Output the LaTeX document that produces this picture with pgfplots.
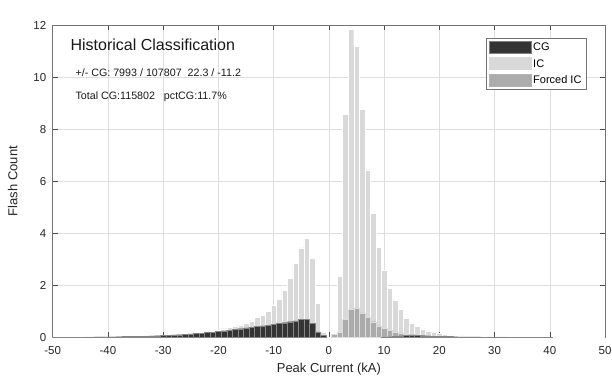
\documentclass[border=0pt]{standalone}
\usepackage{fontspec}
\setmainfont{Liberation Sans}
\usepackage{pgfplots}
\pgfplotsset{compat=1.18}
\usepackage{pgfplotstable}
\definecolor{cgcol}{RGB}{52,52,52}
\definecolor{iccol}{RGB}{217,217,217}
\definecolor{ficcol}{RGB}{171,171,171}

\pgfplotstableread{
kA count
-50 50
-49 60
-48 70
-47 80
-46 90
-45 100
-44 120
-43 140
-42 160
-41 180
-40 200
-39 230
-38 260
-37 300
-36 340
-35 400
-34 450
-33 500
-32 580
-31 660
-30 750
-29 850
-28 950
-27 1100
-26 1250
-25 1400
-24 1600
-23 1800
-22 2100
-21 2500
-20 2900
-19 3300
-18 3800
-17 4300
-16 4800
-15 5400
-14 6300
-13 7600
-12 8500
-11 10100
-10 12400
-9 14500
-8 18100
-7 22600
-6 28300
-5 34400
-4 38000
-3 30300
-2 13000
-1 1800
0 200
1 1600
2 23400
3 85700
4 118500
5 111800
6 87600
7 64400
8 47700
9 34500
10 25700
11 18700
12 14300
13 10800
14 7500
15 5500
16 4100
17 3200
18 2500
19 2000
20 1500
21 1100
22 900
23 700
24 550
25 450
26 370
27 300
28 250
29 200
30 170
31 140
32 120
33 100
34 90
35 80
36 70
37 60
38 50
39 45
40 40
41 35
42 30
43 28
44 25
45 22
46 20
47 18
48 15
49 12
50 10
}\ictable

\pgfplotstableread{
kA count
1 1200
2 1800
3 7000
4 10700
5 11300
6 9400
7 7600
8 6000
9 4400
10 3400
11 2800
12 2100
13 1700
14 1200
15 1100
16 800
17 600
18 500
19 400
20 300
21 200
22 150
23 100
24 80
25 60
}\fictable

\pgfplotstableread{
kA count
-50 40
-49 50
-48 50
-47 60
-46 70
-45 80
-44 90
-43 110
-42 130
-41 150
-40 170
-39 200
-38 230
-37 270
-36 310
-35 360
-34 410
-33 470
-32 540
-31 620
-30 700
-29 800
-28 900
-27 1000
-26 1150
-25 1300
-24 1450
-23 1600
-22 1800
-21 2000
-20 2200
-19 2450
-18 2700
-17 2950
-16 3300
-15 3600
-14 3900
-13 4200
-12 4400
-11 4700
-10 5100
-9 5400
-8 5600
-7 6000
-6 6300
-5 6800
-4 6900
-3 5400
-2 2100
-1 800
10 100
11 200
12 300
13 500
14 800
15 900
16 800
17 600
18 500
19 400
20 350
21 300
22 250
23 200
24 180
25 160
26 140
27 120
28 100
29 90
30 80
31 70
32 60
33 55
34 50
35 45
36 40
37 35
38 30
39 28
40 25
}\cgtable

\begin{document}
\begin{tikzpicture}
\path[use as bounding box] (-52.7bp,-44.7bp) rectangle (559.3bp,337.3bp);
\begin{axis}[
  at={(0,0)}, anchor=south west,
  width=552.3bp, height=312.3bp, scale only axis,
  xmin=-50, xmax=50, ymin=0, ymax=120000,
  xtick={-50,-40,...,50},
  ytick={0,20000,40000,60000,80000,100000,120000},
  yticklabels={0,2,4,6,8,10,12},
  scaled y ticks=false,
  /pgf/number format/assume math mode=true,
  tick align=inside, tick pos=both,
  major tick length=5bp,
  every tick/.style={black!70, line width=0.5bp},
  axis line style={black!55, line width=0.6bp},
  grid=major,
  major grid style={black!13, line width=0.5bp},
  tick label style={font=\fontsize{11.5bp}{13bp}\selectfont, text=black!85},
  xticklabel style={yshift=-6bp},
  yticklabel style={xshift=-3bp},
  label style={font=\fontsize{13bp}{15bp}\selectfont, text=black!85},
  xlabel={Peak Current (kA)},
  ylabel={Flash Count},
  xlabel style={at={(axis description cs:0.5,0)}, anchor=north, yshift=-22bp},
  ylabel style={at={(axis description cs:-0.0574,0.5)}, anchor=south},
  legend image code/.code={\draw[#1] (0bp,-5.5bp) rectangle (42bp,6.5bp);},
  legend style={at={(0.966,0.958)}, anchor=north east, draw=black!55,
    fill=white, font=\fontsize{11bp}{13bp}\selectfont, row sep=3bp,
    inner sep=2.5bp, line width=0.5bp,
    /tikz/every even column/.append style={column sep=1.5bp}},
  legend cell align=left,
]
\addlegendimage{fill=cgcol, draw=black!50}
\addlegendentry{CG}
\addlegendimage{fill=iccol, draw=black!15}
\addlegendentry{IC}
\addlegendimage{fill=ficcol, draw=black!30}
\addlegendentry{Forced IC}
\addplot[ybar, bar width=1, bar shift=0pt, fill=iccol, draw=white, line width=0.35bp, forget plot] table[x=kA, y=count] {\ictable};
\addplot[ybar, bar width=1, bar shift=0pt, fill=ficcol, draw=white!60!ficcol, line width=0.35bp, forget plot] table[x=kA, y=count] {\fictable};
\addplot[ybar, bar width=1, bar shift=0pt, fill=cgcol, draw=white!40!cgcol, line width=0.35bp, forget plot] table[x=kA, y=count] {\cgtable};
\node[anchor=west, font=\fontsize{16bp}{18bp}\selectfont, text=black!90] at (axis cs:-47.4,112500) {Historical Classification};
\node[anchor=west, font=\fontsize{10.7bp}{12bp}\selectfont, text=black!90] at (axis cs:-46.5,101800) {+/- CG: 7993 / 107807\ \ 22.3 / -11.2};
\node[anchor=west, font=\fontsize{10.7bp}{12bp}\selectfont, text=black!90] at (axis cs:-46.5,92300) {Total CG:115802\ \ \ pctCG:11.7\%};
\node[anchor=south west, inner sep=0pt, font=\fontsize{10bp}{11bp}\selectfont, text=black!70] at (rel axis cs:0,1) [yshift=2bp] {×10\textsuperscript{4}};
\end{axis}
\end{tikzpicture}
\end{document}
